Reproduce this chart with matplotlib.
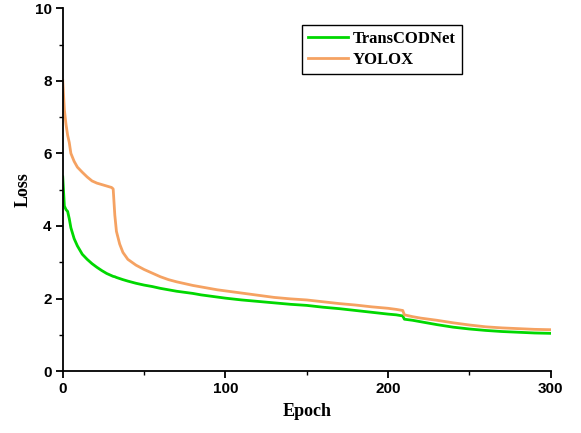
import matplotlib.pyplot as plt
from matplotlib.ticker import MultipleLocator

epochs = [0, 1, 2, 3, 4, 5, 7, 9, 12, 15, 18, 21, 24, 27, 30, 31, 32, 33, 35, 37,
          40, 45, 50, 55, 60, 65, 70, 75, 80, 85, 90, 95, 100, 110, 120, 130, 140,
          150, 160, 170, 180, 190, 200, 205, 209, 210, 215, 220, 230, 240, 250,
          260, 270, 280, 290, 300]

yolox = [8.0, 7.2, 6.8, 6.5, 6.3, 6.0, 5.78, 5.62, 5.48, 5.35, 5.24, 5.18, 5.14,
         5.1, 5.06, 5.02, 4.3, 3.85, 3.5, 3.27, 3.08, 2.92, 2.8, 2.7, 2.6, 2.52,
         2.46, 2.41, 2.36, 2.32, 2.28, 2.24, 2.21, 2.15, 2.09, 2.03, 1.99, 1.96,
         1.91, 1.86, 1.82, 1.77, 1.73, 1.7, 1.67, 1.55, 1.5, 1.46, 1.4, 1.33,
         1.27, 1.22, 1.19, 1.17, 1.15, 1.14]

transcodnet = [5.35, 4.55, 4.45, 4.4, 4.2, 3.95, 3.65, 3.45, 3.22, 3.08, 2.96,
               2.86, 2.77, 2.69, 2.63, 2.61, 2.6, 2.58, 2.55, 2.52, 2.48, 2.42,
               2.37, 2.33, 2.28, 2.24, 2.2, 2.17, 2.14, 2.1, 2.07, 2.04, 2.01,
               1.96, 1.92, 1.88, 1.84, 1.81, 1.76, 1.72, 1.67, 1.62, 1.57, 1.55,
               1.52, 1.43, 1.4, 1.36, 1.28, 1.21, 1.16, 1.12, 1.09, 1.07, 1.05,
               1.04]

fig = plt.figure(figsize=(5.81, 4.33), dpi=100)
ax = fig.add_axes([0.108, 0.143, 0.840, 0.838])

ax.plot(epochs, transcodnet, color="#00d800", lw=2.0, label="TransCODNet")
ax.plot(epochs, yolox, color="#f5a262", lw=2.0, label="YOLOX")

ax.set_xlim(0, 300)
ax.set_ylim(0, 10)
ax.xaxis.set_major_locator(MultipleLocator(100))
ax.xaxis.set_minor_locator(MultipleLocator(50))
ax.yaxis.set_major_locator(MultipleLocator(2))
ax.yaxis.set_minor_locator(MultipleLocator(1))

for s in ["top", "right"]:
    ax.spines[s].set_visible(False)
for s in ["left", "bottom"]:
    ax.spines[s].set_linewidth(1.3)

ax.tick_params(which="major", direction="out", length=5, width=1.3, pad=3)
ax.tick_params(which="minor", direction="out", length=3, width=1.0)
for lab in ax.get_xticklabels() + ax.get_yticklabels():
    lab.set_fontfamily("Liberation Sans")
    lab.set_fontweight("bold")
    lab.set_fontsize(11)

ax.set_xlabel("Epoch", family="Liberation Serif", weight="bold", fontsize=13, labelpad=5)
ax.set_ylabel("Loss", family="Liberation Serif", weight="bold", fontsize=13, labelpad=2)

leg = fig.legend(loc="upper left", bbox_to_anchor=(0.52, 0.942),
                 prop={"family": "Liberation Serif", "weight": "bold", "size": 12},
                 frameon=True, fancybox=False, edgecolor="black", framealpha=1,
                 borderpad=0.35, handlelength=2.4, handletextpad=0.3,
                 labelspacing=0.3, borderaxespad=0)
leg.get_frame().set_linewidth(1.0)

fig.savefig("out.png", dpi=100)
